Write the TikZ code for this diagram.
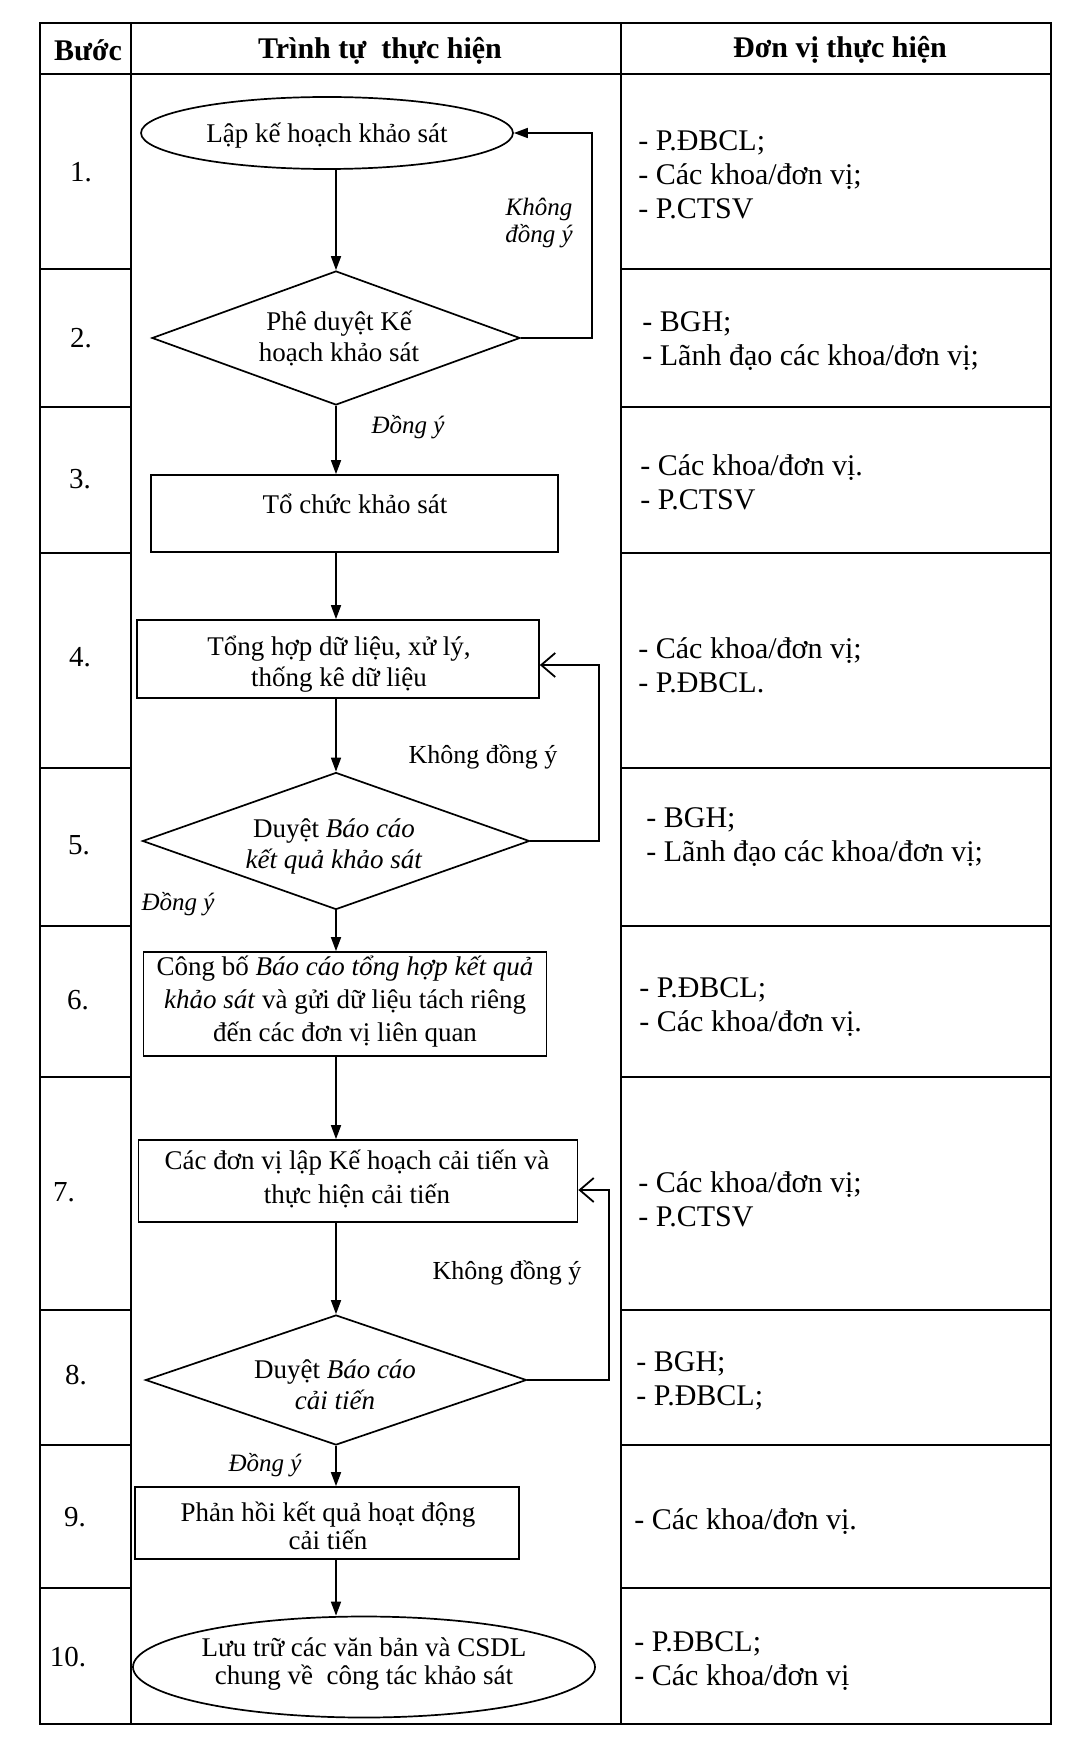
\documentclass[tikz,border=0pt]{standalone}
\usepackage{fontspec}
\setmainfont{Liberation Serif}
\usetikzlibrary{shapes.geometric,arrows.meta}
\begin{document}
\begin{tikzpicture}[x=0.5pt,y=-0.5pt,
  grid/.style={line width=0.9pt},
  box/.style={draw,line width=0.85pt,rectangle,inner sep=0pt},
  oval/.style={draw,line width=0.85pt,ellipse,inner sep=0pt},
  dia/.style={draw,line width=0.85pt,diamond,inner sep=0pt},
  ftxt/.style={align=center,inner sep=0pt,font=\fontsize{13.5pt}{15.5pt}\selectfont},
  unit/.style={anchor=west,align=left,inner sep=0pt,font=\fontsize{15pt}{17pt}\selectfont},
  num/.style={inner sep=0pt,font=\fontsize{14.5pt}{17pt}\selectfont},
  head/.style={inner sep=0pt,font=\fontsize{15pt}{18pt}\selectfont\bfseries},
  lab/.style={inner sep=0pt,align=center,font=\fontsize{12.5pt}{13.5pt}\selectfont\itshape},
  labn/.style={inner sep=0pt,font=\fontsize{13pt}{15pt}\selectfont},
  flow/.style={line width=0.8pt,-{Triangle[length=7pt,width=5pt]}},
  back/.style={line width=0.9pt,-{Straight Barb[length=7pt,width=12pt]}},
]
\useasboundingbox (0,0) rectangle (1076,1738);

% table
\draw[grid] (40,23) rectangle (1051,1724);
\draw[grid] (131,23) -- (131,1724);
\draw[grid] (621,23) -- (621,1724);
\draw[grid] (40,74) -- (1051,74);
\foreach \y in {269,407,553,768,926,1077,1310,1445,1588} {
  \draw[grid] (40,\y) -- (131,\y);
  \draw[grid] (621,\y) -- (1051,\y);
}

% header
\node[head] (h1) at (88,50) {Bước};
\node[head] (h2) at (380,51) {Trình tự\ \ thực hiện};
\node[head] (h3) at (840,50) {Đơn vị thực hiện};

% step numbers
\node[num] (n1) at (81,172) {1.};
\node[num] (n2) at (81,338) {2.};
\node[num] (n3) at (80,479) {3.};
\node[num] (n4) at (80,657) {4.};
\node[num] (n5) at (79,845) {5.};
\node[num] (n6) at (78,1000) {6.};
\node[num] (n7) at (64,1192) {7.};
\node[num] (n8) at (76,1375) {8.};
\node[num] (n9) at (75,1517) {9.};
\node[num] (n10) at (68,1657) {10.};

% responsible units
\node[unit] (u1) at (638,175) {- P.ĐBCL;\\- Các khoa/đơn vị;\\- P.CTSV};
\node[unit] (u2) at (642,341) {- BGH;\\- Lãnh đạo các khoa/đơn vị;};
\node[unit] (u3) at (640,482) {- Các khoa/đơn vị.\\- P.CTSV};
\node[unit] (u4) at (638,665) {- Các khoa/đơn vị;\\- P.ĐBCL.};
\node[unit] (u5) at (646,837) {- BGH;\\- Lãnh đạo các khoa/đơn vị;};
\node[unit] (u6) at (639,1007) {- P.ĐBCL;\\- Các khoa/đơn vị.};
\node[unit] (u7) at (638,1199) {- Các khoa/đơn vị;\\- P.CTSV};
\node[unit] (u8) at (636,1381) {- BGH;\\- P.ĐBCL;};
\node[unit] (u9) at (634,1522) {- Các khoa/đơn vị.};
\node[unit] (u10) at (634,1661) {- P.ĐBCL;\\- Các khoa/đơn vị};

% flowchart shapes
\node[oval,minimum width=186pt,minimum height=36pt] (e1) at (327,133) {};
\node[ftxt] (t1) at (327,136) {Lập kế hoạch khảo sát};
\node[dia,minimum width=184pt,minimum height=67pt] (d2) at (336,338) {};
\node[ftxt] (t2) at (339,338) {Phê duyệt Kế\\hoạch khảo sát};
\node[box,minimum width=203.5pt,minimum height=38.5pt] (r3) at (354.5,513.5) {};
\node[ftxt] (t3) at (355,504) {Tổ chức khảo sát};
\node[box,minimum width=201pt,minimum height=39pt] (r4) at (338,659) {};
\node[ftxt] (t4) at (339,664) {Tổng hợp dữ liệu, xử lý,\\thống kê dữ liệu};
\node[dia,minimum width=193.5pt,minimum height=68.5pt] (d5) at (336,841) {};
\node[ftxt] (t5) at (334,846) {Duyệt \textit{Báo cáo}\\\textit{kết quả khảo sát}};
\node[box,minimum width=201.5pt,minimum height=52pt] (r6) at (345,1004) {};
\node[ftxt,font=\fontsize{13.5pt}{16.5pt}\selectfont] (t6) at (345,1002) {Công bố \textit{Báo cáo tổng hợp kết quả}\\\textit{khảo sát} và gửi dữ liệu tách riêng\\đến các đơn vị liên quan};
\node[box,minimum width=219.5pt,minimum height=41pt] (r7) at (358,1181) {};
\node[ftxt,font=\fontsize{13.5pt}{17pt}\selectfont] (t7) at (357,1179) {Các đơn vị lập Kế hoạch cải tiến và\\thực hiện cải tiến};
\node[dia,minimum width=190.5pt,minimum height=65pt] (d8) at (336,1380) {};
\node[ftxt] (t8) at (335,1385) {Duyệt \textit{Báo cáo}\\\textit{cải tiến}};
\node[box,minimum width=192pt,minimum height=36pt] (r9) at (327,1523) {};
\node[ftxt,font=\fontsize{13.5pt}{14pt}\selectfont] (t9) at (328,1526) {Phản hồi kết quả hoạt động\\cải tiến};
\node[oval,minimum width=231pt,minimum height=50.5pt] (e10) at (364,1667) {};
\node[ftxt,font=\fontsize{13.5pt}{14pt}\selectfont] (t10) at (364,1664) {Lưu trữ các văn bản và CSDL\\chung về\ \ công tác khảo sát};

% main flow
\coordinate (tr) at (336,0);
\draw[flow] (e1.south -| tr) -- (d2.north);
\draw[flow] (d2.south) -- (r3.north -| tr);
\draw[flow] (r3.south -| tr) -- (r4.north -| tr);
\draw[flow] (r4.south -| tr) -- (d5.north);
\draw[flow] (d5.south) -- (r6.north -| tr);
\draw[flow] (r6.south -| tr) -- (r7.north -| tr);
\draw[flow] (r7.south -| tr) -- (d8.north);
\draw[flow] (d8.south) -- (r9.north -| tr);
\draw[flow] (r9.south -| tr) -- (e10.north -| tr);

% feedback loops
\coordinate (k1) at (592,0);
\coordinate (k2) at (599,0);
\coordinate (k3) at (609,0);
\draw[flow] (d2.east) -- (d2.east -| k1) |- (e1.east);
\draw[back] (d5.east) -- (d5.east -| k2) |- ([yshift=-3pt]r4.east);
\draw[back] (d8.east) -- (d8.east -| k3) |- ([yshift=-4.5pt]r7.east);

% labels
\node[lab] (l1) at (539,223) {Không\\đồng ý};
\node[lab] (l2) at (408,427) {Đồng ý};
\node[labn] (l3) at (483,757) {Không đồng ý};
\node[lab] (l4) at (178,904) {Đồng ý};
\node[labn] (l5) at (507,1273) {Không đồng ý};
\node[lab] (l6) at (265,1465) {Đồng ý};
\end{tikzpicture}
\end{document}
